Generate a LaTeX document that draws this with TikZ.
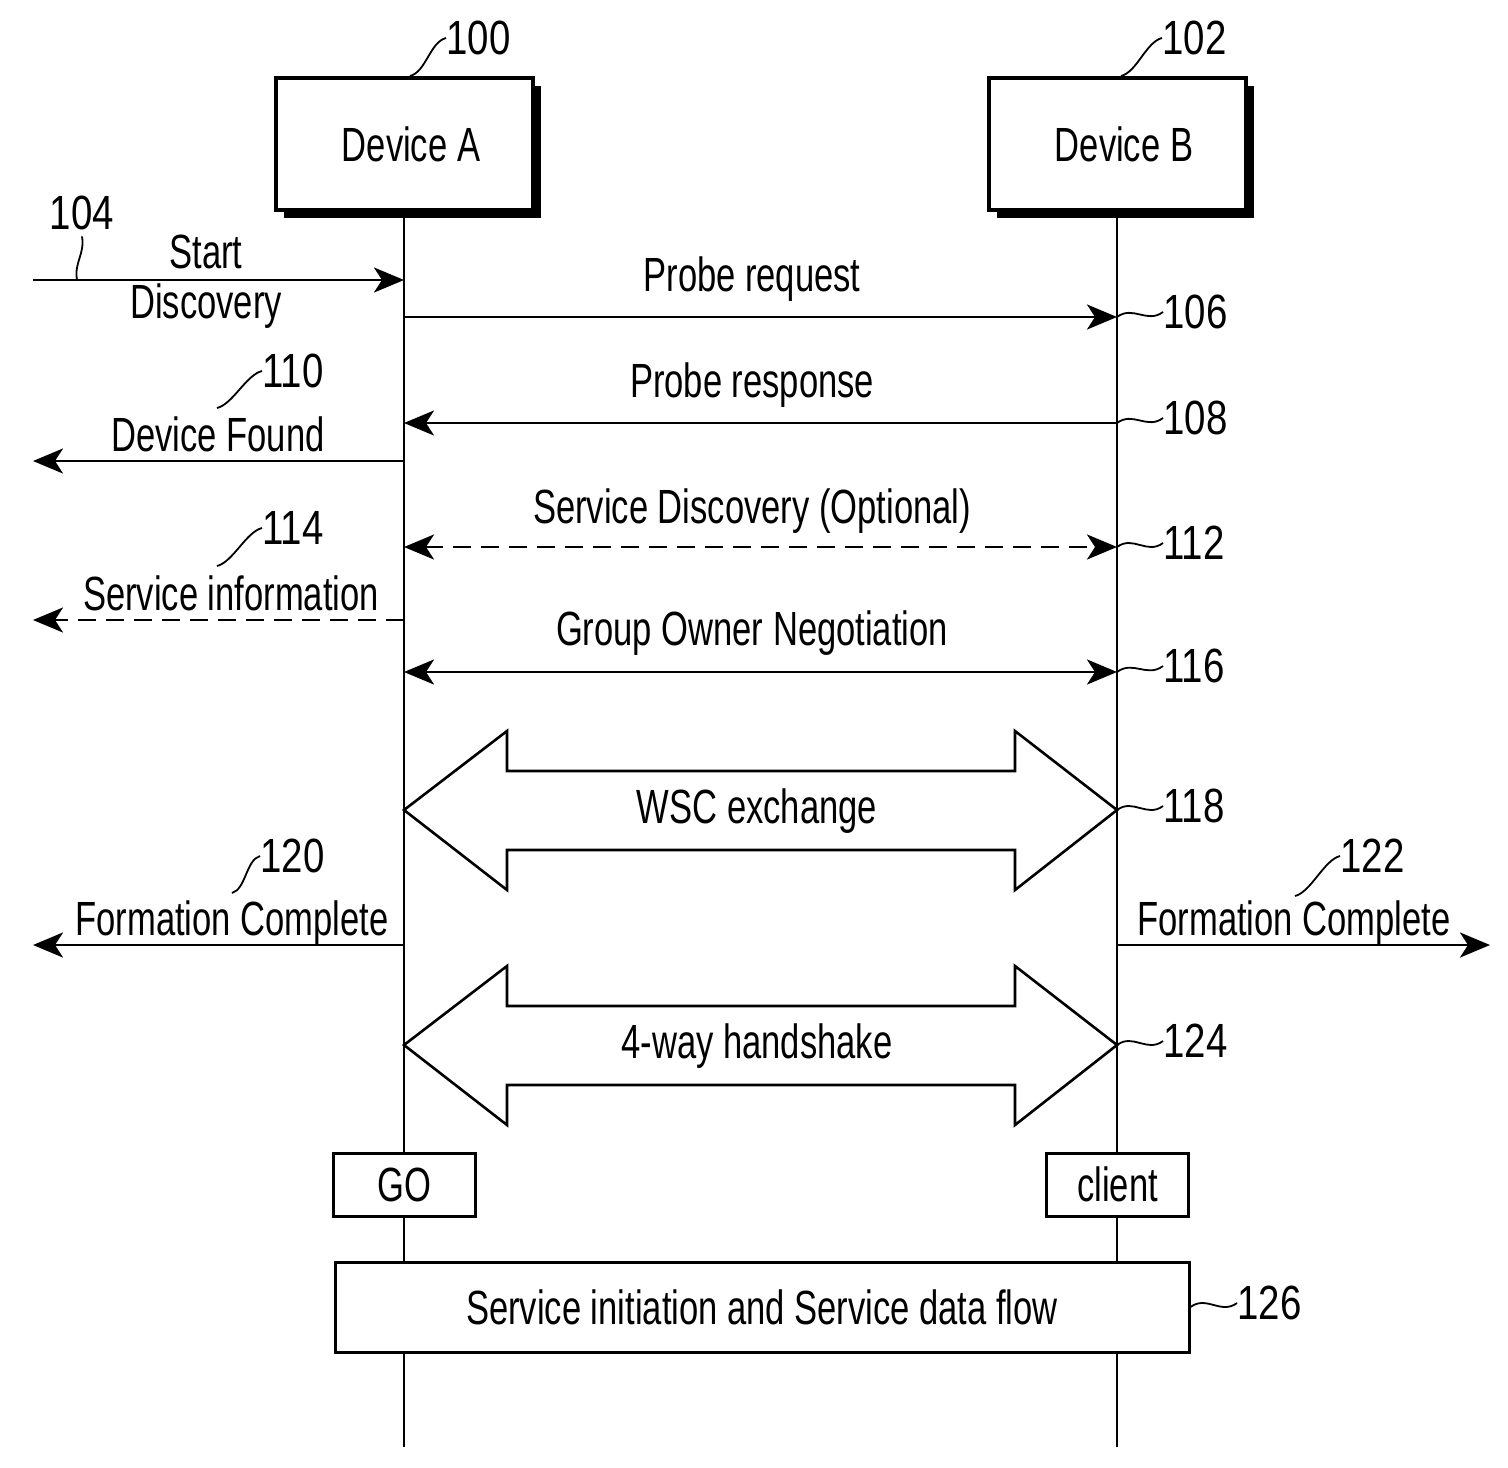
\documentclass[tikz,border=0pt]{standalone}
\usepackage{fontspec}
\setmainfont{Liberation Sans}[FakeStretch=0.72]
\newfontfamily\numfont{Liberation Sans}[FakeStretch=0.8]
\usetikzlibrary{arrows.meta}
\usetikzlibrary{shadows}
\usetikzlibrary{calc}
\tikzset{
  device/.style={draw, line width=2pt, fill=white, minimum width=128.5pt, minimum height=66pt,
    drop shadow={shadow xshift=4pt, shadow yshift=-4pt, fill=black, opacity=1}},
  role/.style={draw, line width=1.5pt, fill=white, minimum width=71pt, minimum height=31.5pt},
  life/.style={line width=1.4pt},
  msg/.style={line width=1.4pt, -{Stealth[length=15pt, width=12.5pt, inset=4pt]}},
  both/.style={line width=1.4pt, {Stealth[length=15pt, width=12.5pt, inset=4pt]}-{Stealth[length=15pt, width=12.5pt, inset=4pt]}},
  opt/.style={dash pattern=on 9pt off 5pt},
  block/.style={line width=1.3pt, line join=miter},
  lead/.style={line width=0.9pt},
  num/.style={anchor=west, font=\fontsize{24}{25}\numfont}
}

\begin{document}
\begin{tikzpicture}[every node/.style={inner sep=0pt, font=\fontsize{24}{25}\selectfont}]
\useasboundingbox (0pt,0pt) rectangle (754pt,-733.5pt);
% devices and lifelines
\node (A) [device] at (202pt, -72pt) {\hspace*{7pt}Device A};
\node (B) [device] at (558.5pt, -72pt) {\hspace*{7pt}Device B};
\coordinate (Aend) at (202pt, -723.5pt);
\coordinate (Bend) at (558.5pt, -723.5pt);
\draw [life] (A) -- (Aend);
\draw [life] (B) -- (Bend);
\node (n100) [num] at (223pt, -19pt) {100};
\node (n102) [num] at (581pt, -19pt) {102};
\draw [lead] ([xshift=3pt]A.north) .. controls +(8pt,2pt) and +(-8pt,-2pt) .. (n100.west);
\draw [lead] ([xshift=2pt]B.north) .. controls +(8pt,2pt) and +(-8pt,-2pt) .. (n102.west);

% points on the lifelines
\coordinate (in104) at (16.5pt, -140pt);
\coordinate (a104) at (202pt, -140pt);
\coordinate (s104) at (38.5pt, -140pt);
\coordinate (a106) at (202pt, -158.5pt);
\coordinate (b106) at (558.5pt, -158.5pt);
\coordinate (a108) at (202pt, -211.5pt);
\coordinate (b108) at (558.5pt, -211.5pt);
\coordinate (a110) at (202pt, -230.5pt);
\coordinate (out110) at (16.5pt, -230.5pt);
\coordinate (a112) at (202pt, -273.5pt);
\coordinate (b112) at (558.5pt, -273.5pt);
\coordinate (a114) at (202pt, -310pt);
\coordinate (out114) at (16.5pt, -310pt);
\coordinate (a116) at (202pt, -336pt);
\coordinate (b116) at (558.5pt, -336pt);
\coordinate (a118) at (202pt, -405pt);
\coordinate (b118) at (558.5pt, -405pt);
\coordinate (a120) at (202pt, -472.5pt);
\coordinate (out120) at (16.5pt, -472.5pt);
\coordinate (b122) at (558.5pt, -472.5pt);
\coordinate (out122) at (745pt, -472.5pt);
\coordinate (a124) at (202pt, -522.5pt);
\coordinate (b124) at (558.5pt, -522.5pt);

% messages
\draw [msg] (in104) -- (a104);
\node (start) [align=center] at (103pt, -141pt) {Start\\Discovery};
\node (n104) [font=\fontsize{24}{25}\numfont] at (41pt, -106.5pt) {104};
\draw [lead] ([yshift=-3pt]n104.south) .. controls +(1.5pt,-9pt) and +(-1.5pt,9pt) .. (s104);

\draw [msg] (a106) -- (b106);
\node (probereq) at (376pt, -139.5pt) {Probe request};
\node (n106) [num] at (581.5pt, -156pt) {106};
\draw [lead] (b106) .. controls +(8pt,6pt) and +(-8pt,-6pt) .. (n106.west);

\draw [msg] (b108) -- (a108);
\node (proberesp) at (376pt, -192.5pt) {Probe response};
\node (n108) [num] at (581.5pt, -209pt) {108};
\draw [lead] (b108) .. controls +(8pt,6pt) and +(-8pt,-6pt) .. (n108.west);

\draw [msg] (a110) -- (out110);
\node (found) at (109pt, -217pt) {Device Found};
\node (n110) [num] at (131pt, -185.5pt) {110};
\coordinate (t110) at (108.5pt, -204pt);
\draw [lead] (t110) .. controls +(8pt,2pt) and +(-8pt,-2pt) .. (n110.west);

\draw [both, opt] (a112) -- (b112);
\node (sd) at (376pt, -255.5pt) {Service Discovery (Optional)};
\node (n112) [num] at (581.5pt, -271.5pt) {112};
\draw [lead] (b112) .. controls +(8pt,6pt) and +(-8pt,-6pt) .. (n112.west);

\draw [msg, opt] (a114) -- (out114);
\node (info) at (115.5pt, -296.5pt) {Service information};
\node (n114) [num] at (131pt, -264pt) {114};
\coordinate (t114) at (108.5pt, -283pt);
\draw [lead] (t114) .. controls +(8pt,2pt) and +(-8pt,-2pt) .. (n114.west);

\draw [both] (a116) -- (b116);
\node (gon) at (376pt, -316.5pt) {Group Owner Negotiation};
\node (n116) [num] at (581.5pt, -333pt) {116};
\draw [lead] (b116) .. controls +(8pt,6pt) and +(-8pt,-6pt) .. (n116.west);

% WSC exchange
\draw [block] (a118) -- ++(51.5pt,39.5pt) -- ++(0pt,-20pt) -- ($(b118)+(-51pt,19.5pt)$) -- ++(0pt,20pt)
  -- (b118) -- ++(-51pt,-40pt) -- ++(0pt,20pt) -- ($(a118)+(51.5pt,-20pt)$) -- ++(0pt,-20pt) -- cycle;
\node (wsc) at (378.5pt, -405.5pt) {WSC exchange};
\node (n118) [num] at (581.5pt, -403pt) {118};
\draw [lead] (b118) .. controls +(8pt,6pt) and +(-8pt,-6pt) .. (n118.west);

% formation complete
\draw [msg] (a120) -- (out120);
\node (fcA) at (116pt, -461.5pt) {Formation Complete};
\node (n120) [num] at (130pt, -428pt) {120};
\coordinate (t120) at (116pt, -446.5pt);
\draw [lead] (t120) .. controls +(7pt,2pt) and +(-7pt,-2pt) .. (n120.west);
\draw [msg] (b122) -- (out122);
\node (fcB) at (647pt, -461.5pt) {Formation Complete};
\node (n122) [num] at (670pt, -428pt) {122};
\coordinate (t122) at (647.5pt, -448pt);
\draw [lead] (t122) .. controls +(8pt,2pt) and +(-8pt,-2pt) .. (n122.west);

% 4-way handshake
\draw [block] (a124) -- ++(51.5pt,39.5pt) -- ++(0pt,-20pt) -- ($(b124)+(-51pt,19.5pt)$) -- ++(0pt,20pt)
  -- (b124) -- ++(-51pt,-40pt) -- ++(0pt,20pt) -- ($(a124)+(51.5pt,-20pt)$) -- ++(0pt,-20pt) -- cycle;
\node (hs) at (378.5pt, -523pt) {4-way handshake};
\node (n124) [num] at (581.5pt, -520.5pt) {124};
\draw [lead] (b124) .. controls +(8pt,6pt) and +(-8pt,-6pt) .. (n124.west);

% roles and service flow
\node (GO) [role] at (202pt, -592.25pt) {GO};
\node (client) [role] at (558.75pt, -592.25pt) {client};
\node (flow) [role, minimum width=427pt, minimum height=45pt] at (381pt, -653.5pt) {Service initiation and Service data flow};
\node (n126) [num] at (618.5pt, -651.5pt) {126};
\draw [lead] (flow.east) .. controls +(8pt,6pt) and +(-8pt,-6pt) .. (n126.west);
\end{tikzpicture}
\end{document}
